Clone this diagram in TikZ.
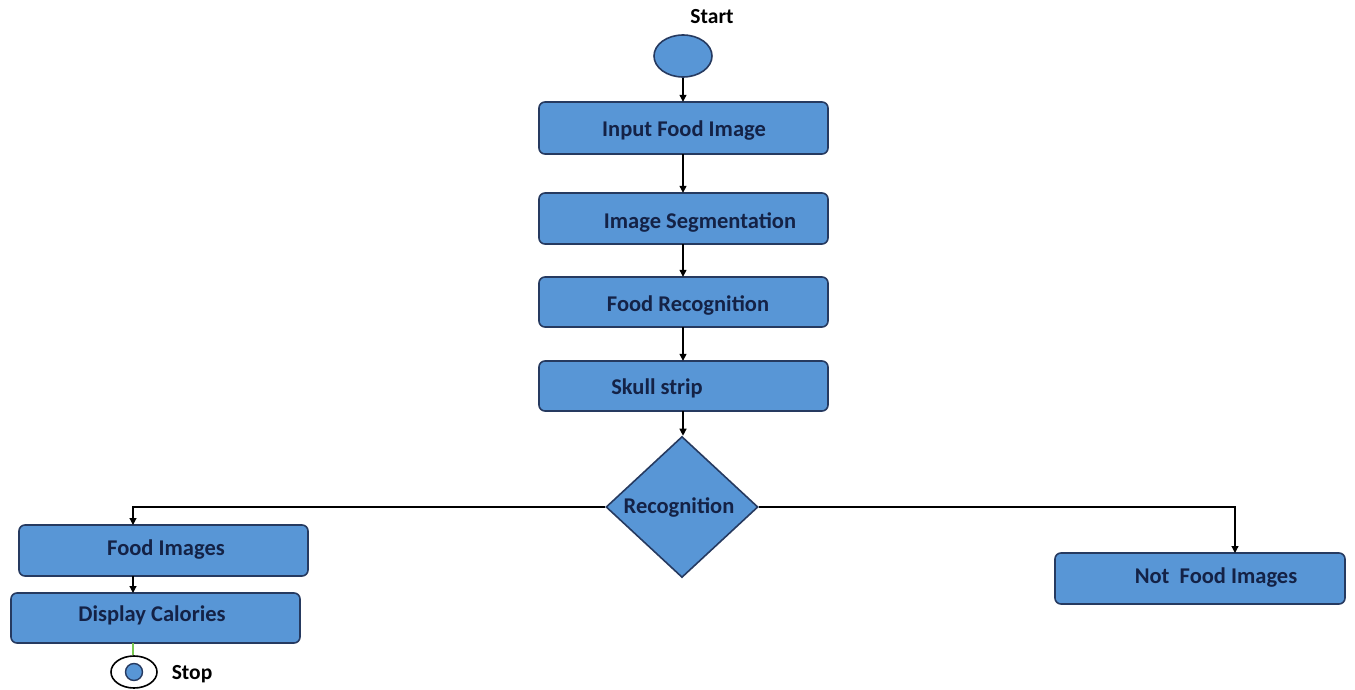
\documentclass[tikz,border=0pt]{standalone}
\usepackage{fontspec}
\setmainfont{Carlito}
\usetikzlibrary{arrows.meta,shapes.geometric}
\definecolor{boxfill}{RGB}{88,150,214}
\definecolor{boxline}{RGB}{38,58,96}
\definecolor{boxtext}{RGB}{20,34,70}
\definecolor{stopline}{RGB}{120,200,80}
\tikzset{
  x=1pt, y=-1pt,
  procbox/.style={draw=boxline, line width=1.6pt, fill=boxfill, rounded corners=6pt},
  boxlabel/.style={text=boxtext, font=\fontsize{22.5}{25}\selectfont\bfseries, inner sep=0pt},
  flow/.style={draw=black, line width=1.2pt, -{Triangle[width=7pt,length=7pt]}},
  plainlabel/.style={text=black, font=\fontsize{21.5}{24}\selectfont\bfseries, inner sep=0pt},
}
\begin{document}
\begin{tikzpicture}
\useasboundingbox (0,0) rectangle (1355,690);

% start terminal
\node[plainlabel] (starttxt) at (712,17) {Start};
\node[draw=boxline, line width=1.6pt, fill=boxfill, ellipse, minimum width=58pt, minimum height=42pt, inner sep=0pt] (start) at (683,56) {};

% processing steps
\path[procbox] (539,102) rectangle (828,154);
\node[inner sep=0pt, minimum width=289pt, minimum height=52pt] (input) at (683,128) {};
\node[boxlabel] at (684,131) {Input Food Image};

\path[procbox] (539,193) rectangle (828,244);
\node[inner sep=0pt, minimum width=289pt, minimum height=51pt] (seg) at (683,218.5) {};
\node[boxlabel] at (700,222) {Image Segmentation};

\path[procbox] (539,277) rectangle (828,327);
\node[inner sep=0pt, minimum width=289pt, minimum height=50pt] (rec) at (683,302) {};
\node[boxlabel] at (688,305) {Food Recognition};

\path[procbox] (539,361) rectangle (828,411);
\node[inner sep=0pt, minimum width=289pt, minimum height=50pt] (skull) at (683,386) {};
\node[boxlabel] at (657,388) {Skull strip};

% decision
\node[draw=boxline, line width=1.6pt, fill=boxfill, diamond, aspect=1.08, minimum width=152pt, minimum height=141pt, inner sep=0pt] (dec) at (682,507) {};
\node[boxlabel] at (679,507) {Recognition};

% outcome boxes
\path[procbox] (19,525) rectangle (308,576);
\node[inner sep=0pt, minimum width=289pt, minimum height=51pt] (food) at (163.5,550.5) {};
\node[boxlabel] at (166,550) {Food Images};

\path[procbox] (11,593) rectangle (300,643);
\node[inner sep=0pt, minimum width=289pt, minimum height=50pt] (disp) at (155.5,618) {};
\node[boxlabel] at (152,615) {Display Calories};

\path[procbox] (1055,553) rectangle (1345,604);
\node[inner sep=0pt, minimum width=290pt, minimum height=51pt] (notfood) at (1200,578.5) {};
\node[boxlabel] at (1216,578) {Not\ \ Food Images};

% stop terminal
\node[draw=black, line width=1.6pt, ellipse, minimum width=46pt, minimum height=32pt, inner sep=0pt] (stop) at (134,672) {};
\node[draw=boxline, line width=1.4pt, fill=boxfill, circle, minimum size=17pt, inner sep=0pt] (stopdot) at (stop.center) {};
\node[plainlabel] (stoptxt) at (192,674) {Stop};

% connectors
\draw[flow] (start.south) -- (input.north);
\draw[flow] (input.south) -- (seg.north);
\draw[flow] (seg.south) -- (rec.north);
\draw[flow] (rec.south) -- (skull.north);
\draw[flow] (skull.south) -- (skull.south |- dec.north);
\draw[flow] (dec.west) -| (133,525);
\draw[flow] (dec.east) -| (1235,553);
\draw[flow] (133,576) -- (133,593);
\draw[draw=stopline, line width=1.6pt] (133,643) -- (stop.north -| 133,0);
\end{tikzpicture}
\end{document}
